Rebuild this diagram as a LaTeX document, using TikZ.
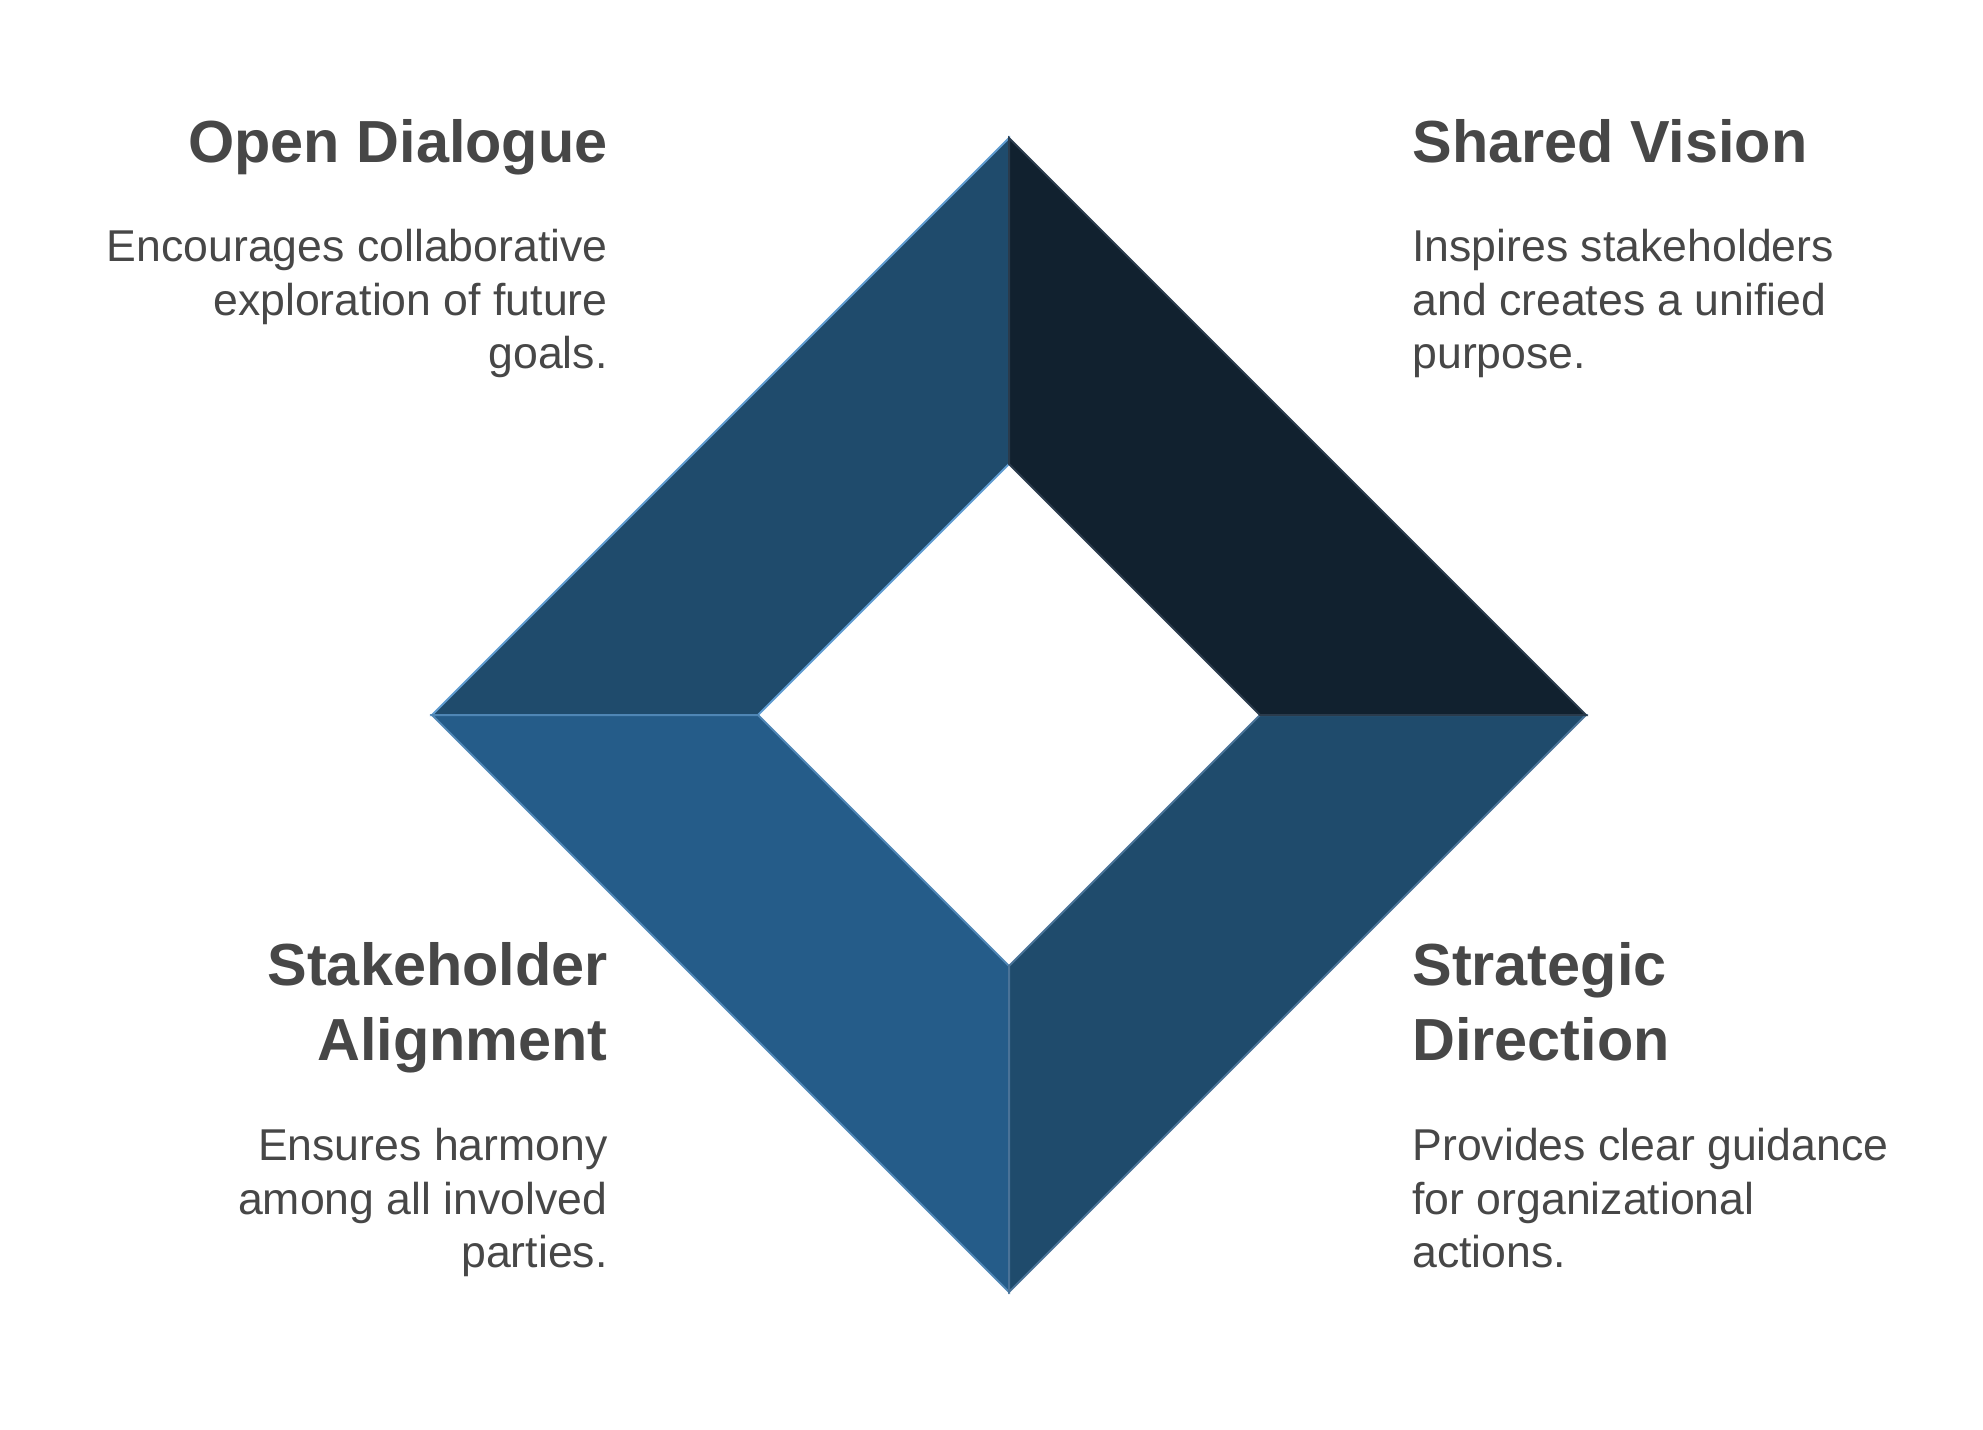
\documentclass[tikz,border=0pt]{standalone}
\usepackage{fontspec}
\setmainfont{Liberation Sans}
\definecolor{txt}{HTML}{474747}
\definecolor{fTL}{HTML}{1F4B6C}
\definecolor{fTR}{HTML}{11212F}
\definecolor{fBL}{HTML}{255C89}
\definecolor{fBR}{HTML}{1F4B6C}
\definecolor{eTL}{HTML}{5E9BD0}
\definecolor{eTR}{HTML}{2A3B4C}
\definecolor{eBL}{HTML}{4F86B5}
\definecolor{eBR}{HTML}{4A7398}
\tikzset{
  x=0.5pt, y=-0.5pt,
  title/.style={inner sep=0pt, text=txt, font=\fontsize{29.7}{37.5}\selectfont\bfseries},
  body/.style={inner sep=0pt, text=txt, font=\fontsize{22.3}{26.75}\selectfont},
  quad/.style={line width=1pt, line join=miter},
}
\begin{document}
\begin{tikzpicture}
\useasboundingbox (0,0) rectangle (1983,1430);
\coordinate (T) at (1009,138);
\coordinate (t) at (1009,464);
\coordinate (L) at (432,715);
\coordinate (l) at (758,715);
\coordinate (R) at (1586,715);
\coordinate (r) at (1260,715);
\coordinate (B) at (1009,1292);
\coordinate (b) at (1009,966);
% quadrants
\draw[quad, fill=fTL, draw=eTL] (T) -- (L) -- (l) -- (t) -- cycle;
\draw[quad, fill=fBL, draw=eBL] (L) -- (B) -- (b) -- (l) -- cycle;
\draw[quad, fill=fBR, draw=eBR] (R) -- (B) -- (b) -- (r) -- cycle;
\draw[quad, fill=fTR, draw=eTR] (T) -- (R) -- (r) -- (t) -- cycle;
% texts (base anchor = baseline of last line)
\node[title, anchor=base east] (odT) at (608,162) {Open Dialogue};
\node[body, anchor=base east, align=right] (odB) at (608,368.5) {Encourages collaborative\\exploration of future\\goals.};
\node[title, anchor=base west] (svT) at (1412,162) {Shared Vision};
\node[body, anchor=base west, align=left] (svB) at (1412,368.5) {Inspires stakeholders\\and creates a unified\\purpose.};
\node[title, anchor=base east, align=right] (saT) at (608,1060) {Stakeholder\\Alignment};
\node[body, anchor=base east, align=right] (saB) at (608,1267.5) {Ensures harmony\\among all involved\\parties.};
\node[title, anchor=base west, align=left] (sdT) at (1412,1060) {Strategic\\Direction};
\node[body, anchor=base west, align=left] (sdB) at (1412,1267.5) {Provides clear guidance\\for organizational\\actions.};
\end{tikzpicture}
\end{document}
